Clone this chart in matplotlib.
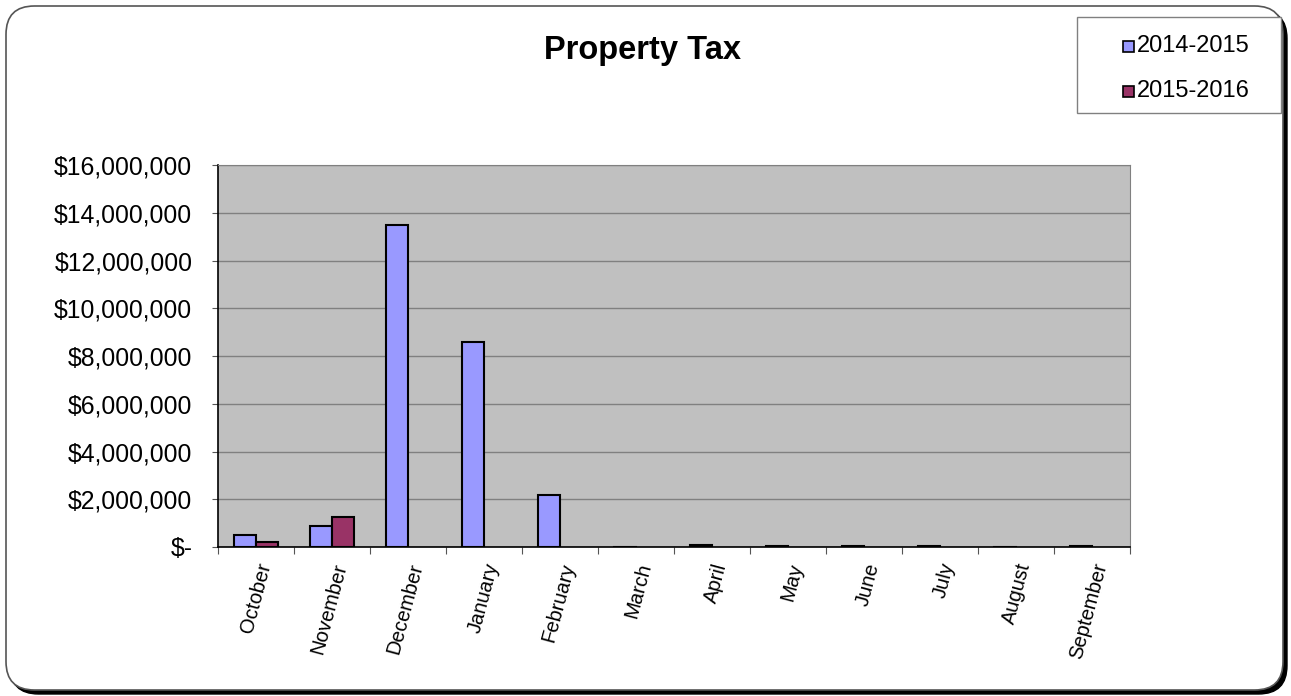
import matplotlib.pyplot as plt
import numpy as np
from matplotlib.patches import FancyBboxPatch, Rectangle
from matplotlib.ticker import FuncFormatter, FixedLocator

plt.rcParams['font.family'] = ['Liberation Sans', 'DejaVu Sans']

# data
months = ['October', 'November', 'December', 'January', 'February', 'March',
          'April', 'May', 'June', 'July', 'August', 'September']
fy2015 = [500000, 880000, 13490000, 8590000, 2180000, -30000,
          100000, 50000, 60000, 40000, -25000, 30000]
fy2016 = [210000, 1260000, np.nan, np.nan, np.nan, np.nan,
          np.nan, np.nan, np.nan, np.nan, np.nan, np.nan]
series_names = ['2014-2015', '2015-2016']
colors = ['#9999FF', '#993366']

W, H = 1291, 696
fig = plt.figure(figsize=(W / 100, H / 100), dpi=100)

# rounded frame with shadow
shadow = FancyBboxPatch((10 / W, 1 - 694 / H), 1277 / W, 684 / H,
                        boxstyle='round,pad=0,rounding_size=0.022',
                        transform=fig.transFigure, facecolor='black',
                        edgecolor='black', zorder=0, mutation_aspect=W / H)
frame = FancyBboxPatch((6 / W, 1 - 690 / H), 1277 / W, 684 / H,
                       boxstyle='round,pad=0,rounding_size=0.022',
                       transform=fig.transFigure, facecolor='white',
                       edgecolor='#555555', linewidth=1.2, zorder=1,
                       mutation_aspect=W / H)
# legend box
legbox = Rectangle((1077 / W, 1 - 113 / H), 204 / W, 96 / H,
                   transform=fig.transFigure, facecolor='white',
                   edgecolor='#808080', linewidth=1, zorder=2)
fig.patches.extend([shadow, frame, legbox])

ax = fig.add_axes([218 / W, 1 - 547 / H, 912 / W, 382 / H])
ax.set_zorder(2)
ax.set_facecolor('#C0C0C0')

x = np.arange(len(months))
w = 0.29
b1 = ax.bar(x - w / 2, fy2015, w, color=colors[0], edgecolor='black',
            linewidth=1.5, label=series_names[0], zorder=3)
b2 = ax.bar(x + w / 2, fy2016, w, color=colors[1], edgecolor='black',
            linewidth=1.5, label=series_names[1], zorder=3)

ax.set_xlim(-0.5, len(months) - 0.5)
ax.set_ylim(0, 16000000)
ax.set_yticks(np.arange(0, 16000001, 2000000))
ax.yaxis.set_major_formatter(FuncFormatter(
    lambda v, p: '$-' if v == 0 else '${:,.0f}'.format(v)))
ax.grid(axis='y', color='#808080', linewidth=1, zorder=1)
ax.tick_params(axis='y', labelsize=17.8, direction='out', length=4,
               color='#555555', pad=14.5)

ax.xaxis.set_major_locator(FixedLocator(np.arange(-0.5, len(months), 1)))
ax.xaxis.set_minor_locator(FixedLocator(x))
ax.set_xticklabels([])
ax.set_xticklabels(months, minor=True, rotation=75, ha='right',
                   va='top', rotation_mode='anchor', fontsize=14.5)
ax.tick_params(axis='x', which='major', direction='out', length=5,
               color='#555555')
ax.tick_params(axis='x', which='minor', length=0, pad=10)

for s in ['top', 'right']:
    ax.spines[s].set_color('#808080')
for s in ['left', 'bottom']:
    ax.spines[s].set_color('black')
    ax.spines[s].set_linewidth(1.2)

fig.text(643 / W, 1 - 50 / H, 'Property Tax', fontsize=23.5,
         fontweight='bold', ha='center', va='center', zorder=3)

# legend entries
for i, (name, c) in enumerate(zip(series_names, colors)):
    yc = 1 - (46 + 45 * i) / H
    fig.patches.append(Rectangle((1123 / W, yc - 6 / H), 11 / W, 11 / H,
                                 transform=fig.transFigure, facecolor=c,
                                 edgecolor='black', linewidth=1.2, zorder=3))
    fig.text(1137 / W, yc, name, fontsize=17, ha='left', va='center',
             zorder=3)

plt.savefig('out.png', dpi=100)
